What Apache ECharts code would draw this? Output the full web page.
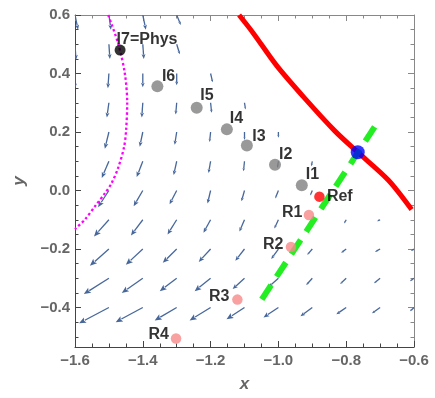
<!DOCTYPE html>
<html><head><meta charset="utf-8">
<script src="https://cdn.jsdelivr.net/npm/echarts@6/dist/echarts.min.js"></script>
<style>html,body{margin:0;padding:0;background:#fff}#c{width:435px;height:398px}</style>
</head><body><div id="c"></div>
<script>
// ---------- data ----------
const xTicks = [-1.6, -1.4, -1.2, -1.0, -0.8, -0.6];
const yTicks = [-0.4, -0.2, 0.0, 0.2, 0.4, 0.6];

// vector field: tails on grid, components in data units (null = no arrow)
const gridX = [-1.6, -1.5, -1.4, -1.3, -1.2, -1.1, -1.0, -0.9, -0.8, -0.7, -0.6];
const gridY = [0.6, 0.5, 0.4, 0.3, 0.2, 0.1, 0.0, -0.1, -0.2, -0.3, -0.4];
const arrowU = [
  [0.009, 0.006, 0.009, 0.012, null, null, null, null, null, null, null],
  [0.003, 0.003, 0.003, 0.009, null, null, null, null, null, null, null],
  [0.000, -0.003, 0.000, 0.000, 0.006, null, null, null, null, null, null],
  [-0.003, -0.006, -0.003, -0.003, 0.003, 0.003, null, null, null, null, null],
  [-0.009, -0.012, -0.009, -0.006, -0.003, 0.000, 0.000, null, null, null, null],
  [-0.018, -0.021, -0.018, -0.009, -0.006, -0.003, -0.003, -0.003, null, null, null],
  [-0.029, -0.032, -0.027, -0.021, -0.009, -0.009, -0.009, -0.006, null, null, null],
  [-0.044, -0.044, -0.035, -0.027, -0.021, -0.015, -0.012, -0.009, -0.006, -0.009, null],
  [-0.059, -0.056, -0.050, -0.041, -0.035, -0.027, -0.021, -0.015, -0.015, -0.015, -0.009],
  [-0.077, -0.074, -0.062, -0.050, -0.047, -0.035, -0.029, -0.018, -0.018, -0.018, -0.012],
  [-0.091, -0.088, -0.080, -0.065, -0.062, -0.053, -0.044, -0.035, -0.029, -0.024, -0.012]
];
const arrowV = [
  [-0.050, -0.050, -0.050, -0.034, null, null, null, null, null, null, null],
  [-0.054, -0.050, -0.050, -0.034, null, null, null, null, null, null, null],
  [-0.050, -0.050, -0.047, -0.040, -0.030, null, null, null, null, null, null],
  [-0.050, -0.050, -0.050, -0.040, -0.034, -0.023, null, null, null, null, null],
  [-0.054, -0.057, -0.050, -0.044, -0.034, -0.027, -0.020, null, null, null, null],
  [-0.057, -0.057, -0.054, -0.047, -0.040, -0.034, -0.023, -0.017, null, null, null],
  [-0.057, -0.057, -0.054, -0.047, -0.044, -0.037, -0.027, -0.017, null, null, null],
  [-0.057, -0.057, -0.054, -0.050, -0.044, -0.040, -0.030, -0.017, -0.013, -0.005, null],
  [-0.057, -0.057, -0.054, -0.047, -0.044, -0.040, -0.034, -0.020, -0.013, -0.010, -0.007],
  [-0.057, -0.054, -0.050, -0.044, -0.044, -0.037, -0.030, -0.023, -0.020, -0.017, -0.010],
  [-0.054, -0.054, -0.050, -0.044, -0.044, -0.040, -0.034, -0.030, -0.023, -0.020, -0.013]
];

// red solid curve
const redX = [-1.116, -1.074, -1.005, -0.922, -0.833, -0.766, -0.676, -0.607];
const redY = [0.600, 0.538, 0.427, 0.315, 0.203, 0.131, 0.036, -0.065];
// green dashed line
const greenX = [-1.049, -0.705];
const greenY = [-0.372, 0.237];
// magenta dotted curve
const magX = [-1.502, -1.472, -1.453, -1.446, -1.449, -1.455, -1.472, -1.492, -1.512, -1.541, -1.570, -1.600];
const magY = [0.600, 0.500, 0.400, 0.300, 0.210, 0.150, 0.080, 0.025, -0.010, -0.054, -0.098, -0.132];

// labelled points
const iNames = ['I6', 'I5', 'I4', 'I3', 'I2', 'I1'];
const iX = [-1.357, -1.241, -1.152, -1.093, -1.010, -0.931];
const iY = [0.356, 0.283, 0.209, 0.154, 0.088, 0.018];
const physName = 'I7=Phys';
const physX = -1.467, physY = 0.480;
const refName = 'Ref';
const refX = -0.879, refY = -0.021;
const rNames = ['R1', 'R2', 'R3', 'R4'];
const rX = [-0.910, -0.963, -1.121, -1.302];
const rY = [-0.084, -0.193, -0.373, -0.506];
const blueX = -0.766, blueY = 0.131;

// ---------- styles ----------
const FONT = 'Liberation Sans, Arial, sans-serif';
const ARROW = '#47679b';
const labelOffset = {
  'I7=Phys': [-3.5, -11], 'I6': [4.5, -10], 'I5': [3.5, -12], 'I4': [3, -11],
  'I3': [5.5, -9], 'I2': [4, -10], 'I1': [4, -11], 'Ref': [7.5, 0],
  'R1': [-6.5, -2.5], 'R2': [-7.5, -2.7], 'R3': [-8, -3], 'R4': [-7, -4]
};

const zip = (a, b) => a.map((v, i) => [v, b[i]]);
const fmt = v => (v < 0 ? '\u2212' : '') + Math.abs(v).toFixed(1);

const xMinor = [], yMinor = [];
for (let k = 0; k <= 20; k++) {
  const v = +(-1.6 + 0.05 * k).toFixed(2);
  if (!xTicks.some(t => Math.abs(t - v) < 1e-6)) xMinor.push(v);
}
for (let k = 0; k <= 22; k++) {
  const v = +(-0.5 + 0.05 * k).toFixed(2);
  if (!yTicks.some(t => Math.abs(t - v) < 1e-6)) yMinor.push(v);
}

const arrowData = [];
gridY.forEach((y, j) => gridX.forEach((x, i) => {
  if (arrowU[j][i] !== null) arrowData.push([x, y, arrowU[j][i], arrowV[j][i]]);
}));

function renderArrow(params, api) {
  const x = api.value(0), y = api.value(1), u = api.value(2), v = api.value(3);
  const p0 = api.coord([x, y]), p1 = api.coord([x + u, y + v]);
  const dx = p1[0] - p0[0], dy = p1[1] - p0[1];
  const len = Math.hypot(dx, dy);
  if (len < 0.5) return null;
  const ux = dx / len, uy = dy / len, px = -uy, py = ux;
  const hl = Math.min(7, Math.max(2.5, len * 0.32));
  const hw = hl * 0.42;
  const bx = p1[0] - ux * hl, by = p1[1] - uy * hl;
  return {
    type: 'group',
    children: [
      { type: 'line', shape: { x1: p0[0], y1: p0[1], x2: bx + ux * 0.5, y2: by + uy * 0.5 },
        style: { stroke: ARROW, lineWidth: 1.3 } },
      { type: 'polygon', shape: { points: [[p1[0], p1[1]], [bx + px * hw, by + py * hw], [bx + ux * hl * 0.2, by + uy * hl * 0.2], [bx - px * hw, by - py * hw]] },
        style: { fill: ARROW } }
    ]
  };
}

function pointLabel(name, align) {
  return {
    show: true, formatter: name, position: 'inside', align: align, verticalAlign: 'middle',
    offset: labelOffset[name], color: '#000', fontSize: 16, fontWeight: 'bold', fontFamily: FONT
  };
}

function xAx(pos, major, lineColor) {
  return {
    type: 'value', min: -1.6, max: -0.6, position: pos,
    axisLine: { show: major, onZero: false, lineStyle: { color: lineColor, width: 1 } },
    axisTick: { show: true, inside: true, length: major ? 6 : 3.5, customValues: major ? xTicks : xMinor, lineStyle: { color: lineColor } },
    axisLabel: { show: false },
    splitLine: { show: false }
  };
}
function yAx(pos, major, lineColor) {
  return {
    type: 'value', min: -0.535, max: 0.6, position: pos,
    axisLine: { show: major, onZero: false, lineStyle: { color: lineColor, width: 1 } },
    axisTick: { show: true, inside: true, length: major ? 6 : 3.5, customValues: major ? yTicks : yMinor, lineStyle: { color: lineColor } },
    axisLabel: { show: false },
    splitLine: { show: false }
  };
}
const xMain = xAx('bottom', true, '#444');
xMain.axisLabel = { show: true, customValues: xTicks, formatter: fmt, color: '#666', fontSize: 15, fontWeight: 'bold', fontFamily: FONT, margin: 6 };
xMain.name = 'x'; xMain.nameLocation = 'middle'; xMain.nameGap = 29;
xMain.nameTextStyle = { color: '#666', fontSize: 17, fontStyle: 'italic', fontWeight: 'bold', fontFamily: FONT };
const yMain = yAx('left', true, '#444');
yMain.axisLabel = { show: true, customValues: yTicks, formatter: fmt, color: '#666', fontSize: 15, fontWeight: 'bold', fontFamily: FONT, margin: 5 };
yMain.name = 'y'; yMain.nameLocation = 'middle'; yMain.nameGap = 47;
yMain.nameTextStyle = { color: '#666', fontSize: 17, fontStyle: 'italic', fontWeight: 'bold', fontFamily: FONT };

const option = {
  animation: false,
  backgroundColor: '#fff',
  grid: { left: 75, right: 21, top: 15, bottom: 45, containLabel: false },
  xAxis: [xMain, xAx('bottom', false, '#444'), xAx('top', true, '#888'), xAx('top', false, '#888')],
  yAxis: [yMain, yAx('left', false, '#444'), yAx('right', true, '#888'), yAx('right', false, '#888')],
  series: [
    { type: 'custom', renderItem: renderArrow, data: arrowData, clip: true, z: 1,
      encode: { x: 0, y: 1 }, silent: true },
    { type: 'line', data: zip(magX, magY), showSymbol: false, z: 2, clip: true, smooth: 0.3,
      lineStyle: { color: '#ff00ff', width: 2.3, type: [2.5, 2.5] } },
    { type: 'line', data: zip(redX, redY), showSymbol: false, z: 3, clip: true, smooth: 0.3,
      lineStyle: { color: '#ff0000', width: 5, join: 'round' } },
    { type: 'line', data: zip(greenX, greenY), showSymbol: false, z: 4, clip: true,
      lineStyle: { color: '#22ee22', width: 6, type: [17, 10], cap: 'butt' } },
    { type: 'scatter', z: 5, symbolSize: 12, itemStyle: { color: '#808080' },
      data: iNames.map((n, k) => ({ name: n, value: [iX[k], iY[k]], label: pointLabel(n, 'left') })) },
    { type: 'scatter', z: 5, symbolSize: 11, itemStyle: { color: '#000' },
      data: [{ name: physName, value: [physX, physY], label: pointLabel(physName, 'left') }] },
    { type: 'scatter', z: 5, symbolSize: 10.5, itemStyle: { color: '#f78a8a' },
      data: rNames.map((n, k) => ({ name: n, value: [rX[k], rY[k]], label: pointLabel(n, 'right') })) },
    { type: 'scatter', z: 5, symbolSize: 10.5, itemStyle: { color: '#ff0000' },
      data: [{ name: refName, value: [refX, refY], label: pointLabel(refName, 'left') }] },
    { type: 'scatter', z: 6, symbolSize: 14, itemStyle: { color: '#0000ff' },
      data: [[blueX, blueY]] }
  ]
};
const chart = echarts.init(document.getElementById('c'), null, { renderer: 'canvas' });
chart.setOption(option);
</script>
</body></html>
